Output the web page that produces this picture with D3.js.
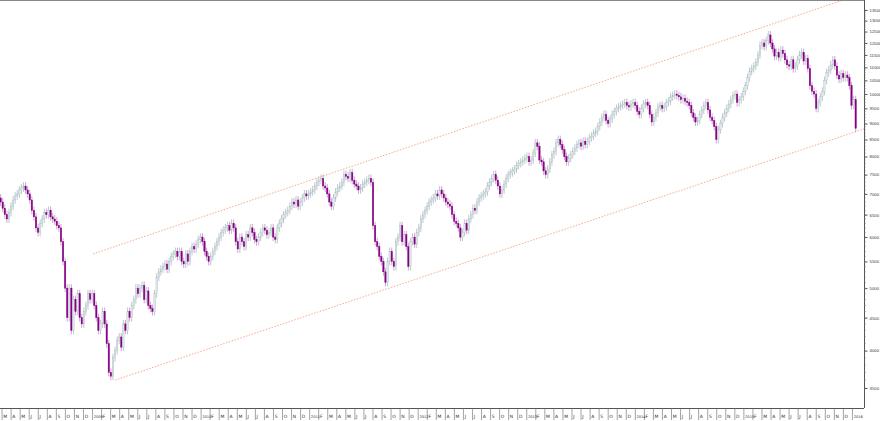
<!DOCTYPE html>
<html><head><meta charset="utf-8">
<script src="https://cdn.jsdelivr.net/npm/d3@7"></script>
<style>body{margin:0;background:#fff}svg{display:block;font-family:"DejaVu Sans",sans-serif}</style>
</head><body><svg id="c" width="880" height="421"></svg>
<script>
// weekly closes, week index 6 = mid Feb 2008
const startWeek = 6;
const closes2008 = [7000,6900,6800,6650,6500,6400,6550,6700,6850,6950,7000,7100,7150,7200,7100,7000,6850,6600,6450,6200,6100,6300,6400,6550,6500,6600,6450,6400,6350,6250,6200,5900,5500,5000,4500,5000,4300,4800,4600,4900,4500,4400,4600,4700,4900,4800];
const closes2009 = [4900,4700,4500,4300,4400,4600,4400,4100,3700,3650,3900,4000,4150,4200,4050,4400,4300,4600,4500,4700,4800,5000,4900,5000,5050,4800,4950,4700,4650,4600,4900,5200,5300,5350,5400,5450,5350,5500,5600,5650,5700,5600,5700,5500,5450,5650,5500,5700,5800,5750,5850,5950];
const closes2010 = [6000,5900,5700,5600,5500,5600,5700,5800,5900,6000,6100,6150,6200,6250,6150,6300,6200,5900,5750,6000,5900,5800,6050,6000,6200,6100,5950,5900,6000,6100,6200,6150,6050,6100,6200,6000,5950,6200,6300,6400,6500,6550,6600,6700,6800,6750,6850,6700,6800,6900,7000,6950];
const closes2011 = [7000,7050,7100,7200,7300,7350,7400,7200,7150,7000,6800,6700,6900,7050,7150,7200,7300,7500,7450,7400,7550,7350,7250,7200,7100,7150,7250,7300,7350,7400,7300,6250,5900,5800,5600,5500,5300,5100,5500,5700,5500,5400,5900,6000,6250,5900,6050,5800,5400,5900,6000,5850];
const closes2012 = [6100,6200,6400,6500,6600,6700,6800,6850,6900,7000,6950,7100,7000,6900,6800,6750,6700,6500,6350,6300,6200,6000,6100,6300,6150,6400,6500,6650,6600,6800,6900,6950,7000,7050,7200,7300,7400,7500,7350,7200,7000,7100,7250,7400,7500,7550,7600,7650,7750,7800,7850,7900];
const closes2013 = [7950,8000,7850,7900,8100,8400,8300,7900,7850,7600,7500,7650,7850,8050,8150,8400,8500,8350,8200,8000,7850,7950,8050,8150,8250,8350,8400,8300,8450,8350,8450,8550,8600,8700,8750,8900,9050,9200,9300,9100,9000,9150,9300,9400,9500,9550,9600,9650,9700,9600,9550,9650];
const closes2014 = [9700,9600,9400,9300,9500,9650,9700,9600,9300,9050,9200,9350,9550,9600,9500,9550,9700,9750,9900,9950,10000,9950,9900,9800,9850,9750,9700,9600,9350,9200,9050,9100,9300,9450,9600,9700,9450,9200,9100,8900,8500,8800,9000,9200,9350,9500,9650,9800,9950,10000,9700,9800];
const closes2015 = [9900,10100,10300,10600,10850,10950,11050,11200,11500,11900,12000,11850,12100,12350,12000,11750,11450,11600,11400,11700,11550,11300,11100,11050,11300,10950,11050,11300,11500,11600,11250,11350,10950,10300,10100,10000,9500,9700,9900,10100,10500,10800,10900,11100,11300,11050,10700,10550,10750,10600,10700,10600];
const closes2016 = [10300,9600,9800,8850];
const yTicks = d3.range(3500, 13501, 500);
const monthLetters = ["J","F","M","A","M","J","J","A","S","O","N","D"];
// channel anchors: [week index, value]
const upperChannel = [[52.4,5650],[413,13990]];
const lowerChannel = [[63,3600],[423,8830]];

const closes = [].concat(closes2008,closes2009,closes2010,closes2011,closes2012,closes2013,closes2014,closes2015,closes2016);
const candles = closes.map((c,k)=>{
  const o = k===0 ? 7050 : closes[k-1];
  return {i:startWeek+k,o,c,h:Math.max(o,c)*1.014,l:Math.min(o,c)*0.986};
});

const svg = d3.select("#c");
const W=864, B=408;
const x = d3.scaleLinear().domain([7.7,423]).range([0,W]);
const y = d3.scaleLog().domain([3500,13500]).range([388,10]);

svg.append("defs").append("clipPath").attr("id","cp").append("rect").attr("width",W).attr("height",B);
const g = svg.append("g").attr("clip-path","url(#cp)");

const line = d3.line().x(d=>x(d[0])).y(d=>y(d[1]));
[upperChannel,lowerChannel].forEach(ch=>{
  g.append("path").attr("d",line(ch)).attr("fill","none").attr("stroke","#f5a27a").attr("stroke-width",0.9).attr("stroke-dasharray","1.5,1.5");
});

const up="#a9bcc0", dn="#850085";
const cg = g.selectAll("g.k").data(candles).join("g");
cg.append("line").attr("x1",d=>x(d.i)).attr("x2",d=>x(d.i)).attr("y1",d=>y(d.h)).attr("y2",d=>y(d.l))
  .attr("stroke",d=>d.c>=d.o?up:"#c48ec4").attr("stroke-width",0.8);
cg.append("rect").attr("x",d=>x(d.i)-0.7).attr("width",1.4)
  .attr("y",d=>y(Math.max(d.o,d.c))).attr("height",d=>Math.max(0.8,Math.abs(y(d.o)-y(d.c))))
  .attr("fill",d=>d.c>=d.o?"#e4eaeb":dn).attr("stroke",d=>d.c>=d.o?up:dn).attr("stroke-width",0.4);

// frame / axes
svg.append("line").attr("x1",0).attr("x2",W).attr("y1",0.5).attr("y2",0.5).attr("stroke","#888");
svg.append("line").attr("x1",W+0.5).attr("x2",W+0.5).attr("y1",0).attr("y2",B).attr("stroke","#555");
svg.append("line").attr("x1",0).attr("x2",W).attr("y1",B+0.5).attr("y2",B+0.5).attr("stroke","#555");

const ya = svg.append("g").attr("transform",`translate(${W+0.5},0)`)
  .call(d3.axisRight(y).tickValues(yTicks).tickFormat(d3.format("d")).tickSize(3).tickPadding(2));
ya.select(".domain").remove();
ya.selectAll("text").attr("font-size",4.3).attr("fill","#333");
ya.selectAll("line").attr("stroke","#555");
// minor ticks
svg.append("g").selectAll("line").data(d3.range(3500,13600,100)).join("line")
  .attr("x1",W).attr("x2",W+2).attr("y1",d=>y(d)).attr("y2",d=>y(d)).attr("stroke","#777").attr("stroke-width",0.5);

// month axis
const months=[];
for(let yr=2008;yr<=2016;yr++) for(let m=0;m<12;m++){
  const wi=(yr-2008)*52.18+m*4.348;
  const px=x(wi);
  if(px>=0 && px<=W-4) months.push({px,yr:m===0,lab:m===0?String(yr):monthLetters[m]});
}
const ma=svg.append("g");
ma.selectAll("line").data(months).join("line").attr("x1",d=>d.px).attr("x2",d=>d.px).attr("y1",B).attr("y2",B+12).attr("stroke","#666").attr("stroke-width",0.6);
ma.selectAll("text").data(months).join("text").attr("x",d=>d.px+1.2).attr("y",B+10).attr("font-size",d=>d.yr?3.6:4.5).attr("fill","#333").text(d=>d.lab);
</script></body></html>
